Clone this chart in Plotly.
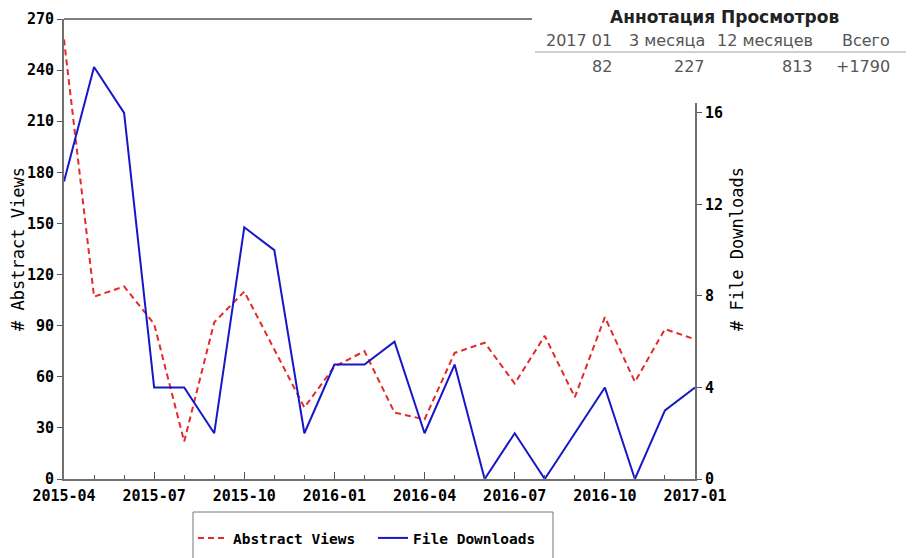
import plotly.graph_objects as go

months = ["2015-04", "2015-05", "2015-06", "2015-07", "2015-08", "2015-09",
          "2015-10", "2015-11", "2015-12", "2016-01", "2016-02", "2016-03",
          "2016-04", "2016-05", "2016-06", "2016-07", "2016-08", "2016-09",
          "2016-10", "2016-11", "2016-12", "2017-01"]
abstract_views = [258, 107, 113, 91, 22, 92, 110, 76, 42, 66,
                  75, 39, 35, 74, 80, 56, 84, 48, 95, 57, 88, 82]
file_downloads = [13, 18, 16, 4, 4, 2, 11, 10, 2, 5,
                  5, 6, 2, 5, 0, 2, 0, 2, 4, 0, 3, 4]

left_ticks = [0, 30, 60, 90, 120, 150, 180, 210, 240, 270]
right_ticks = [0, 4, 8, 12, 16]

table_title = "Аннотация Просмотров"
table_headers = ["2017 01", "3 месяца", "12 месяцев", "Всего"]
table_values = ["82", "227", "813", "+1790"]

xi = list(range(len(months)))
MONO = "DejaVu Sans Mono"
SANS = "DejaVu Sans"

fig = go.Figure()
fig.add_trace(go.Scatter(x=xi, y=abstract_views, name="Abstract Views", mode="lines",
                         line=dict(color="#e52a2a", width=2, dash="6px,4px"), yaxis="y"))
fig.add_trace(go.Scatter(x=xi, y=file_downloads, name="File Downloads", mode="lines",
                         line=dict(color="#1717c8", width=2), yaxis="y2"))

W, H = 914, 558
OFF = 8  # page body margin offset
PL, PR, PT, PB = 64, 695, 19, 479  # plot area in window pixels
pw, ph = PR - PL, PB - PT

def px(xp):
    return (xp - PL) / pw

def py(yp):
    return (PB - yp) / ph

tickfont = dict(family=MONO, size=15, color="black", weight="bold")

fig.update_layout(
    width=W, height=H,
    margin=dict(l=PL - OFF, r=W - (PR - OFF), t=PT - OFF, b=H - (PB - OFF)),
    paper_bgcolor="white", plot_bgcolor="white",
    showlegend=True,
    legend=dict(orientation="h", x=px(193), y=py(522), xanchor="left", yanchor="top",
                borderwidth=0, bgcolor="rgba(0,0,0,0)",
                font=dict(family=MONO, size=14.5, color="black", weight="bold"),
                entrywidth=135),
    xaxis=dict(range=[0, len(months) - 1], tickvals=xi[::3], ticktext=months[::3],
               automargin=False,
               showline=True, linecolor="#707070", linewidth=2, showgrid=False, zeroline=False,
               ticks="inside", ticklen=7, tickcolor="#555", tickwidth=1,
               minor=dict(dtick=1, ticks="inside", ticklen=4, tickcolor="#555"),
               tickfont=tickfont, ticklabelstandoff=2),
    yaxis=dict(range=[0, 270], tickvals=left_ticks, automargin=False,
               showline=True, linecolor="#707070", linewidth=2, showgrid=False, zeroline=False,
               ticks="outside", ticklen=5, tickcolor="#555",
               tickfont=tickfont,
               title=dict(text="# Abstract Views", font=dict(family=MONO, size=17, color="black"),
                          standoff=7)),
    yaxis2=dict(range=[0, 20.1], tickvals=right_ticks, overlaying="y", side="right",
                automargin=False,
                showline=True, linecolor="#707070", linewidth=2, showgrid=False, zeroline=False,
                ticks="outside", ticklen=5, tickcolor="#555",
                tickfont=tickfont,
                title=dict(text="# File Downloads", font=dict(family=MONO, size=17, color="black"),
                           standoff=9)),
)

# top frame line and white panel for the table
fig.add_shape(type="line", xref="paper", yref="paper", x0=0, x1=px(532), y0=1, y1=1,
              line=dict(color="black", width=1), layer="above")
fig.add_shape(type="rect", xref="paper", yref="paper", x0=px(532), x1=px(930),
              y0=py(103), y1=py(-2), fillcolor="white", line=dict(width=0), layer="above")
fig.add_shape(type="line", xref="paper", yref="paper", x0=px(535), x1=px(912),
              y0=py(52), y1=py(52), line=dict(color="#cfcfcf", width=2), layer="above")
# legend frame (runs past the bottom edge as in the reference)
fig.add_shape(type="rect", xref="paper", yref="paper", x0=px(193), x1=px(553),
              y0=py(575), y1=py(512), fillcolor="rgba(0,0,0,0)",
              line=dict(color="#777", width=1), layer="above")

fig.add_annotation(xref="paper", yref="paper", x=px(724), y=py(17), text="<b>" + table_title + "</b>",
                   showarrow=False, xanchor="center", yanchor="middle", borderpad=0,
                   font=dict(family=SANS, size=17, color="#222"))
header_right = [614, 707, 815, 892]
for txt, xr in zip(table_headers, header_right):
    fig.add_annotation(xref="paper", yref="paper", x=px(xr), y=py(41), text=txt,
                       showarrow=False, xanchor="right", yanchor="middle",
                       font=dict(family=SANS, size=16, color="#555"))
for txt, xr in zip(table_values, header_right):
    fig.add_annotation(xref="paper", yref="paper", x=px(xr), y=py(67), text=txt,
                       showarrow=False, xanchor="right", yanchor="middle",
                       font=dict(family=SANS, size=16, color="#555"))

fig.write_html("out.html")
